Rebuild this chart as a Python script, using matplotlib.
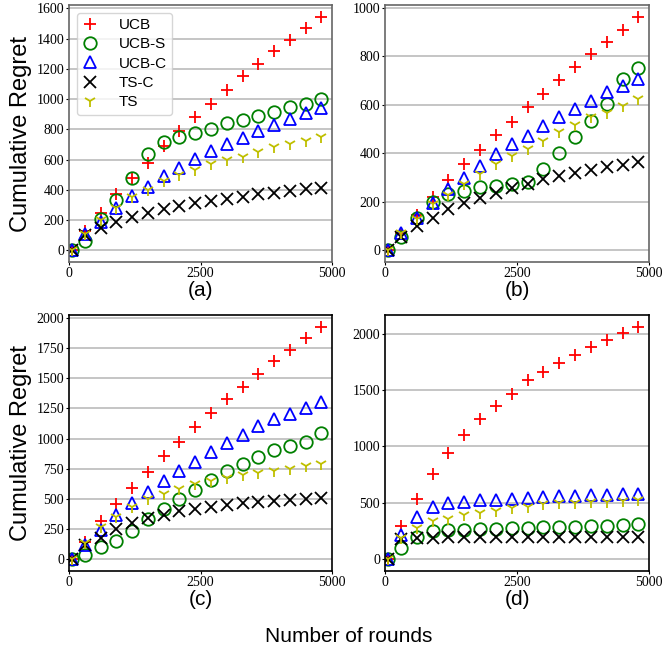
import matplotlib
matplotlib.use('Agg')
import matplotlib.pyplot as plt
import numpy as np

rounds = [50, 300, 600, 900, 1200, 1500, 1800, 2100, 2400, 2700,
          3000, 3300, 3600, 3900, 4200, 4500, 4800]
names = ['UCB', 'UCB-S', 'UCB-C', 'TS-C', 'TS']
panel_labels = ['(a)', '(b)', '(c)', '(d)']

# panel (a)
a_ucb = [0, 130, 250, 370, 475, 580, 690, 790, 880, 970, 1060, 1150, 1230, 1315, 1390, 1470, 1545]
a_ucbs = [0, 60, 210, 330, 475, 640, 715, 750, 775, 805, 840, 865, 890, 915, 945, 970, 1000]
a_ucbc = [0, 110, 190, 280, 360, 420, 490, 545, 605, 660, 700, 745, 790, 830, 870, 910, 940]
a_tsc = [0, 100, 150, 190, 220, 250, 275, 295, 310, 325, 340, 355, 370, 380, 395, 405, 415]
a_ts = [0, 110, 200, 280, 355, 400, 460, 500, 530, 570, 595, 620, 650, 680, 700, 725, 752]

# panel (b)
b_ucb = [0, 73, 145, 220, 290, 355, 415, 475, 530, 590, 645, 700, 755, 810, 860, 910, 963]
b_ucbs = [0, 54, 132, 200, 231, 245, 259, 266, 272, 282, 337, 403, 469, 531, 604, 706, 753]
b_ucbc = [0, 70, 135, 197, 252, 300, 348, 396, 438, 472, 513, 548, 582, 617, 651, 679, 706]
b_tsc = [0, 55, 100, 135, 170, 195, 215, 238, 258, 275, 293, 305, 318, 330, 342, 352, 362]
b_ts = [0, 70, 130, 190, 230, 273, 314, 355, 387, 417, 451, 486, 516, 548, 568, 596, 623]

# panel (c)
c_ucb = [0, 146, 317, 455, 592, 724, 854, 972, 1096, 1212, 1325, 1427, 1537, 1642, 1738, 1835, 1928]
c_ucbs = [0, 36, 99, 149, 234, 333, 421, 504, 573, 656, 733, 793, 848, 904, 937, 975, 1050]
c_ucbc = [0, 118, 242, 366, 463, 559, 650, 733, 807, 890, 964, 1033, 1102, 1165, 1207, 1256, 1303]
c_tsc = [0, 118, 176, 253, 303, 339, 366, 399, 416, 435, 449, 463, 474, 482, 490, 499, 510]
c_ts = [0, 132, 270, 353, 435, 504, 545, 579, 623, 647, 675, 700, 719, 733, 752, 774, 793]

# panel (d)
d_ucb = [0, 295, 539, 760, 943, 1105, 1246, 1355, 1467, 1585, 1664, 1741, 1814, 1879, 1944, 2003, 2062]
d_ucbs = [0, 97, 194, 247, 256, 259, 265, 271, 277, 280, 283, 289, 289, 295, 297, 303, 309]
d_ucbc = [0, 215, 377, 465, 501, 510, 524, 530, 539, 548, 554, 560, 563, 568, 571, 577, 583]
d_tsc = [0, 180, 190, 192, 194, 195, 196, 197, 198, 198, 199, 199, 200, 200, 200, 201, 201]
d_ts = [0, 186, 280, 339, 362, 392, 415, 430, 451, 465, 489, 495, 500, 505, 510, 515, 524]

panels = [
    [a_ucb, a_ucbs, a_ucbc, a_tsc, a_ts],
    [b_ucb, b_ucbs, b_ucbc, b_tsc, b_ts],
    [c_ucb, c_ucbs, c_ucbc, c_tsc, c_ts],
    [d_ucb, d_ucbs, d_ucbc, d_tsc, d_ts],
]

styles = [
    dict(marker='+', color='r', mfc='r'),
    dict(marker='o', color='g', mfc='none'),
    dict(marker='^', color='b', mfc='none'),
    dict(marker='x', color='k', mfc='k'),
    dict(marker='1', color='y', mfc='y'),
]

yticks = [
    [0, 200, 400, 600, 800, 1000, 1200, 1400, 1600],
    [0, 200, 400, 600, 800, 1000],
    [0, 250, 500, 750, 1000, 1250, 1500, 1750, 2000],
    [0, 500, 1000, 1500, 2000],
]

W, H = 662, 656
fig = plt.figure(figsize=(W / 100, H / 100), dpi=100)

# axes boxes in pixels: left, top, right, bottom
boxes = [(69, 5, 332, 262), (385, 5, 649, 262),
         (69, 315, 332, 571), (385, 315, 649, 571)]

sans = 'Liberation Sans'
serif = 'Liberation Serif'

for i in range(4):
    l, t, r, b = boxes[i]
    ax = fig.add_axes([l / W, 1 - b / H, (r - l) / W, (b - t) / H])
    for j in range(5):
        ax.plot(rounds, panels[i][j], linestyle='none', ms=9, mew=1.3,
                label=names[j], **styles[j])
    ax.set_xlim(0, 5000)
    ax.set_xticks([0, 2500, 5000])
    ax.set_yticks(yticks[i])
    ax.grid(axis='y', color='#c0c0c0', lw=1.3)
    ax.set_axisbelow(True)
    ax.tick_params(length=2, width=0.8, pad=1.5, labelsize=10)
    for lab in ax.get_xticklabels() + ax.get_yticklabels():
        lab.set_family(serif)
    spine_col = '#666666' if i < 2 else 'black'
    for s in ax.spines.values():
        s.set_color(spine_col)
        s.set_linewidth(1.2)
    ax.set_xlabel(panel_labels[i], family=sans, fontsize=15, labelpad=1)
    if i % 2 == 0:
        ax.set_ylabel('Cumulative Regret', family=sans, fontsize=17, labelpad=3)
    if i == 0:
        ax.legend(loc='upper left', prop={'family': sans, 'size': 11},
                  handlelength=1.0, handletextpad=1.4, labelspacing=0.35,
                  borderpad=0.35, numpoints=1)

fig.text(349 / W, 1 - 636 / H, 'Number of rounds', family=sans, fontsize=15,
         ha='center', va='center')

fig.savefig('out.png', dpi=100)
